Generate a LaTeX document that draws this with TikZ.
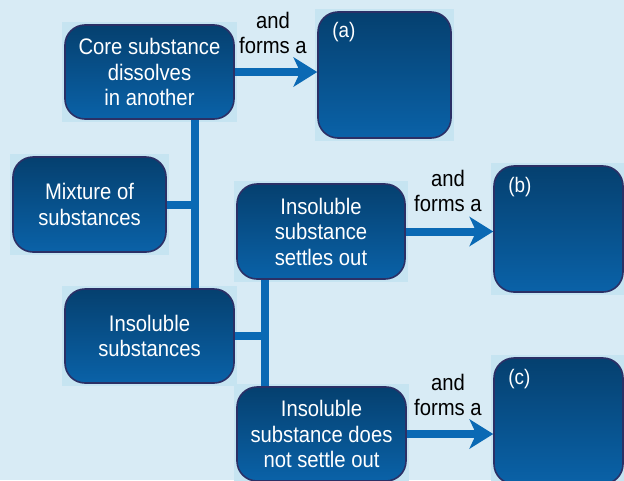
\documentclass[tikz,border=0pt]{standalone}
\usepackage{fontspec}
\setmainfont{Liberation Sans}[FakeStretch=0.9]
\usetikzlibrary{arrows.meta}
\definecolor{bgc}{HTML}{D8EBF5}
\definecolor{haloc}{HTML}{C6E4F1}
\definecolor{boxtop}{HTML}{05406F}
\definecolor{boxbot}{HTML}{0A62A8}
\definecolor{boxedge}{HTML}{2B3066}
\definecolor{connc}{HTML}{0A69B4}
\pgfdeclarelayer{background}
\pgfsetlayers{background,main}
\tikzset{
  box/.style={rectangle, rounded corners=20pt, draw=boxedge, line width=1.6pt,
    top color=boxtop, bottom color=boxbot, text=white, align=center,
    inner sep=0pt, font=\fontsize{22.5}{25.5}\selectfont},
  halo/.style={fill=haloc},
  conn/.style={draw=connc, line width=8pt},
  arr/.style={conn, -{Stealth[length=24pt,width=30pt,inset=7pt,line width=0pt]}},
  lbl/.style={text=black, align=center, inner sep=0pt, font=\fontsize{22.5}{25.5}\selectfont},
  tag/.style={text=white, inner sep=0pt, anchor=base west, font=\fontsize{21}{24}\selectfont}
}
\begin{document}
\begin{tikzpicture}[x=1pt,y=-1pt]
\useasboundingbox (0,0) rectangle (624,480);
\node[box, minimum width=169pt, minimum height=94pt] (core) at (149.5,72) {Core substance\\dissolves\\in another};
\node[box, minimum width=133pt, minimum height=126pt] (a) at (384.5,75) {};
\node[box, minimum width=153pt, minimum height=95pt] (mix) at (89.5,204.5) {Mixture of\\substances};
\node[box, minimum width=169pt, minimum height=94pt] (insol) at (149.5,336) {Insoluble\\substances};
\node[box, minimum width=168pt, minimum height=95pt] (settle) at (321,231.5) {Insoluble\\substance\\settles out};
\node[box, minimum width=129pt, minimum height=126pt] (b) at (558.5,229) {};
\node[box, minimum width=169pt, minimum height=94pt] (nosettle) at (321.5,434) {Insoluble\\substance does\\not settle out};
\node[box, minimum width=129pt, minimum height=126pt] (c) at (558.5,421) {};
\node[tag] (ta) at ([shift={(15,26)}]a.north west) {(a)};
\node[tag] (tb) at ([shift={(15,27)}]b.north west) {(b)};
\node[tag] (tc) at ([shift={(15,27)}]c.north west) {(c)};
\coordinate (t1) at (195,0);
\coordinate (t2) at (265,0);
\begin{pgfonlayer}{background}
\fill[bgc] (0,0) rectangle (624,480);
\foreach \n in {core,a,mix,insol,settle,b,nosettle,c}
  \fill[halo] ([shift={(-2,-2)}]\n.north west) rectangle ([shift={(2,2)}]\n.south east);
\draw[conn] (core.south -| t1) -- (insol.north -| t1);
\draw[conn] (mix.east) -- (mix.east -| t1);
\draw[conn] (settle.south -| t2) -- (nosettle.north -| t2);
\draw[conn] (insol.east) -- (insol.east -| t2);
\end{pgfonlayer}
\draw[arr] (core.east) -- (core.east -| a.west);
\draw[arr] (settle.east) -- (settle.east -| b.west);
\draw[arr] (nosettle.east) -- (nosettle.east -| c.west);
\node[lbl] (l1) at (273,33) {and\\forms a};
\node[lbl] (l2) at (448,191) {and\\forms a};
\node[lbl] (l3) at (448,395) {and\\forms a};
\end{tikzpicture}
\end{document}
